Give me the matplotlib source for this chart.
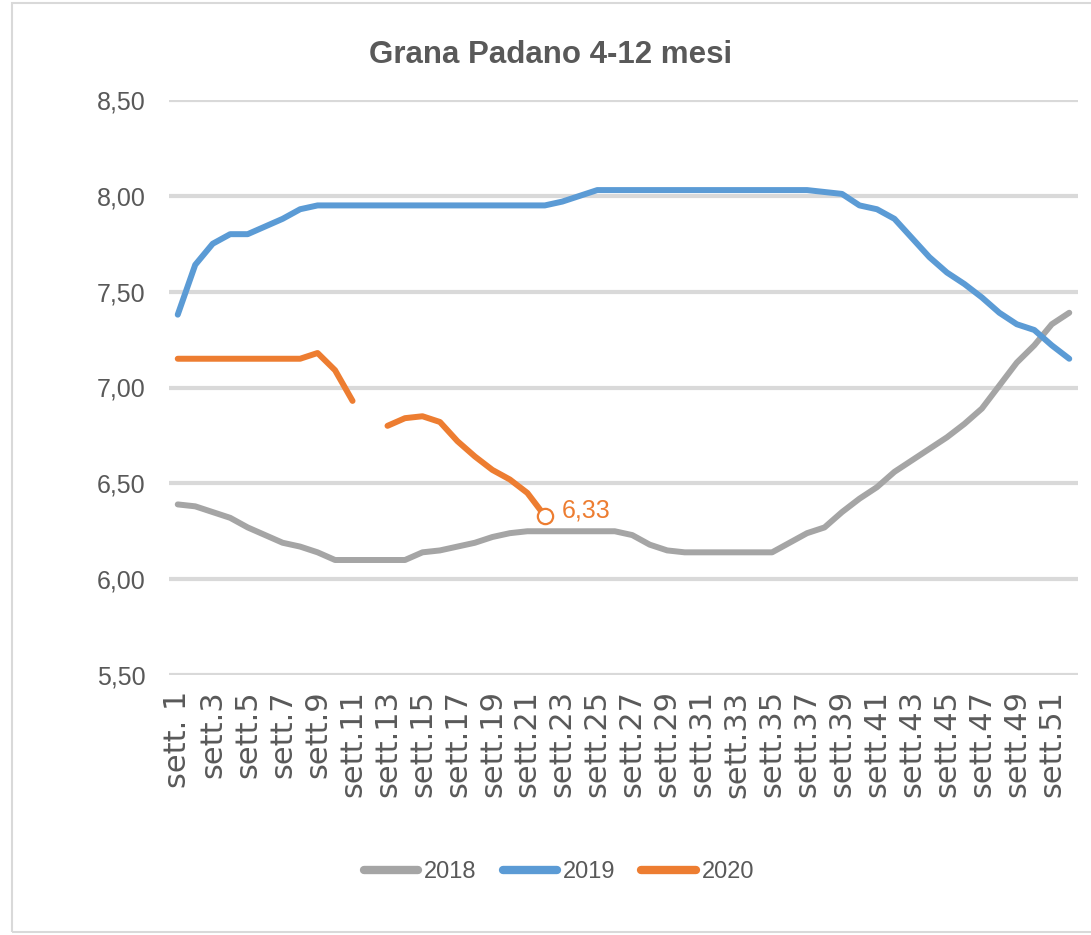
import numpy as np
import matplotlib
matplotlib.use("Agg")
import matplotlib.pyplot as plt
from matplotlib.patches import Rectangle
from matplotlib.lines import Line2D

weeks = list(range(1, 53))
tick_weeks = list(range(1, 53, 2))
tick_labels = ["sett. 1"] + ["sett.%d" % w for w in tick_weeks[1:]]

s2018 = [6.39, 6.38, 6.35, 6.32, 6.27, 6.23, 6.19, 6.17, 6.14, 6.10,
         6.10, 6.10, 6.10, 6.10, 6.14, 6.15, 6.17, 6.19, 6.22, 6.24,
         6.25, 6.25, 6.25, 6.25, 6.25, 6.25, 6.23, 6.18, 6.15, 6.14,
         6.14, 6.14, 6.14, 6.14, 6.14, 6.19, 6.24, 6.27, 6.35, 6.42,
         6.48, 6.56, 6.62, 6.68, 6.74, 6.81, 6.89, 7.01, 7.13, 7.22,
         7.33, 7.39]
s2019 = [7.38, 7.64, 7.75, 7.80, 7.80, 7.84, 7.88, 7.93, 7.95, 7.95,
         7.95, 7.95, 7.95, 7.95, 7.95, 7.95, 7.95, 7.95, 7.95, 7.95,
         7.95, 7.95, 7.97, 8.00, 8.03, 8.03, 8.03, 8.03, 8.03, 8.03,
         8.03, 8.03, 8.03, 8.03, 8.03, 8.03, 8.03, 8.02, 8.01, 7.95,
         7.93, 7.88, 7.78, 7.68, 7.60, 7.54, 7.47, 7.39, 7.33, 7.30,
         7.22, 7.15]
s2020 = [7.15, 7.15, 7.15, 7.15, 7.15, 7.15, 7.15, 7.15, 7.18, 7.09,
         6.93, None, 6.80, 6.84, 6.85, 6.82, 6.72, 6.64, 6.57, 6.52,
         6.45, 6.33]
series_names = ["2018", "2019", "2020"]
colors = ["#A5A5A5", "#5B9BD5", "#ED7D31"]

y2020 = np.array([np.nan if v is None else v for v in s2020] + [np.nan] * (52 - len(s2020)))

NARROW = "Liberation Sans"

fig = plt.figure(figsize=(10.91, 9.35), dpi=100)
fig.patches.append(Rectangle((12 / 1091, 3 / 935), 1.0, 929 / 935, transform=fig.transFigure,
                             fill=False, edgecolor="#D9D9D9", linewidth=1.5))
ax = fig.add_axes([169 / 1091, 1 - 675 / 935, 909 / 1091, 575 / 935])

lw = 4.3
ax.plot(weeks, s2018, color=colors[0], lw=lw, solid_capstyle="round", solid_joinstyle="round", zorder=3)
ax.plot(weeks, s2019, color=colors[1], lw=lw, solid_capstyle="round", solid_joinstyle="round", zorder=3)
ax.plot(weeks, y2020, color=colors[2], lw=lw, solid_capstyle="round", solid_joinstyle="round", zorder=3)

last = len(s2020)
ax.plot([last], [s2020[-1]], marker="o", ms=11, mfc="white", mec=colors[2], mew=1.6, zorder=4)
ax.annotate("6,33", (last, s2020[-1]), xytext=(12, 4), textcoords="offset points",
            color=colors[2], fontsize=18, family=NARROW, va="center", ha="left")

ax.set_xlim(0.5, 52.5)
ax.set_ylim(5.5, 8.5)
ax.set_yticks(np.arange(5.5, 8.51, 0.5))
ax.set_yticklabels([("%.2f" % v).replace(".", ",") for v in np.arange(5.5, 8.51, 0.5)],
                   family=NARROW, fontsize=18, color="#595959")
ax.set_xticks(tick_weeks)
ax.set_xticklabels(tick_labels, rotation=90, fontsize=22, color="#595959", family="DejaVu Sans")
ax.tick_params(axis="both", length=0)
ax.tick_params(axis="y", pad=17)
ax.tick_params(axis="x", pad=11)
ax.grid(axis="y", color="#D9D9D9", lw=3)
ax.set_axisbelow(True)
for sp in ax.spines.values():
    sp.set_visible(False)

fig.text(551 / 1091, 1 - 55 / 935, "Grana Padano 4-12 mesi", ha="center", va="center",
         fontsize=22.5, fontweight="bold", color="#595959", family=NARROW)

handles = [Line2D([], [], color=c, lw=6, solid_capstyle="round") for c in colors]
leg = fig.legend(handles, series_names, loc="center", bbox_to_anchor=(559 / 1091, 1 - 872 / 935),
                 ncol=3, frameon=False, handlelength=2.3, handletextpad=0.25, columnspacing=1.1,
                 prop={"family": NARROW, "size": 17})
for t in leg.get_texts():
    t.set_color("#595959")

fig.savefig("out.png", dpi=100)
